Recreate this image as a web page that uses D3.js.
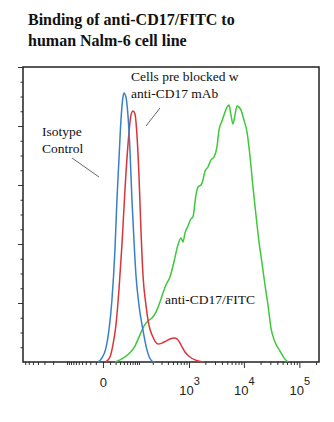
<!DOCTYPE html>
<html><head><meta charset="utf-8">
<script src="https://cdn.jsdelivr.net/npm/d3@7/dist/d3.min.js"></script>
<style>body{margin:0;background:#fff}svg{display:block}</style>
</head><body>
<script>
// ---- data ----
const titleLines = ["Binding of anti-CD17/FITC to", "human Nalm-6 cell line"];
const isotypeLabel = ["Isotype", "Control"];
const blockedLabel = ["Cells pre blocked w", "anti-CD17 mAb"];
const fitcLabel = "anti-CD17/FITC";

const xMajorTicks = [0, 1e3, 1e4, 1e5];
const xMajorExp = ["", "3", "4", "5"];
const xMinorTicks = [-700,-600,-500,-400,-300,-200,-100,-90,-80,-70,-60,-50,-40,-30,-20,-10,
  10,20,30,40,50,60,70,80,90,100,200,300,400,500,600,700,800,900,
  2000,3000,4000,5000,6000,7000,8000,9000,20000,30000,40000,50000,60000,70000,80000,90000,200000];
const yMajorTicks = [20, 40, 60, 80, 100];
const yMinorTicks = [5,10,15,25,30,35,45,50,55,65,70,75,85,90,95];

// Isotype control (blue)
const isoX = [-6.7,-1.2,3.8,8.2,13.1,18.7,22.8,27.3,32.2,37.5,40.3,46.3,52.8,59.9,67.6,75.9,85.0,100.1,123.5,151.0,192.4,221.8];
const isoY = [0,1.4,4.7,10.8,21.0,38.0,54.9,68.5,82.0,89.8,91.2,89.8,83.7,71.9,54.9,41.4,29.5,19.3,10.8,4.1,0.3,0];
// Cells pre-blocked (red)
const blkX = [3.8,9.8,14.9,20.7,27.3,34.8,43.2,52.8,63.7,71.7,80.4,89.9,100.1,111.3,123.5,143.7,166.5,192.4,221.8,255,306,367,438,546,622,708,842,1042,1290,1808];
const blkY = [0,1.7,5.8,12.5,24.4,39.7,58.3,73.6,83.7,85.1,84.1,76.9,63.4,44.7,29.5,19.3,12.5,9.2,7.1,6.1,6.4,7.1,7.8,8.1,7.5,5.8,3.4,1.7,0.7,0];
// anti-CD17/FITC (green)
const fitcX = [18.7,29.7,43.2,59.9,80.4,105.6,129.9,158.6,192.4,232.4,279.6,320.6,366.8,438.3,522.6,622.3,708.5,772.3,841.7,957,1088,1184,1345,1464,1662,1808,1967,2232,2531,2871,3255,3540,4012,4362,4945,5374,5844,6351,6902,7502,8155,8862,10040,11374,12885,14596,16533,18728,21214,24029,27216,30827,36392,44793,52885,62437];
const fitcY = [0,0.7,1.7,3.1,5.4,9.2,12.2,13.9,14.9,16.9,20.3,23.4,26.1,28.8,33.9,39.7,42.0,40.7,43.7,46.1,48.5,49.2,56.6,59.3,60.0,61.7,64.7,66.1,68.5,69.5,72.9,78.6,81.7,83.7,86.4,87.1,83.7,80.7,83.7,86.8,86.4,85.4,82.0,78.0,69.8,59.3,49.8,40.7,33.6,26.1,19.3,11.5,6.8,3.7,1.4,0];

// ---- drawing ----
const W = 334, H = 422;
const svg = d3.select("body").append("svg").attr("width", W).attr("height", H);
svg.append("rect").attr("width", W).attr("height", H).attr("fill", "#fff");

const x = d3.scaleSymlog().constant(29).domain([-770, 226000]).range([23, 319]);
const y = d3.scaleLinear().domain([0, 100]).range([362, 67]);

// title
const title = svg.append("text").attr("font-family", "'Liberation Serif', 'Times New Roman', serif")
  .attr("font-weight", "bold").attr("font-size", 16).attr("fill", "#111");
titleLines.forEach((t, i) => title.append("tspan").attr("x", 28).attr("y", 25 + i * 21).text(t));

// axes
const gx = svg.append("g").attr("transform", `translate(0,${y(0)})`);
gx.append("g").call(d3.axisBottom(x).tickValues(xMinorTicks).tickSize(3).tickSizeOuter(0).tickFormat(""))
  .call(g => g.select(".domain").remove());
const gxMaj = gx.append("g").call(d3.axisBottom(x).tickValues(xMajorTicks).tickSize(6).tickSizeOuter(0))
  .call(g => g.select(".domain").remove());
gx.selectAll("line").attr("stroke", "#333");
gxMaj.selectAll(".tick text").each(function(d, i) {
  const t = d3.select(this);
  t.text(null).attr("dy", null).attr("font-family", "'Liberation Sans', Arial, sans-serif")
    .attr("font-size", 13).attr("fill", "#222");
  if (d === 0) { t.attr("y", 25).text("0"); }
  else {
    t.attr("y", 33);
    t.append("tspan").text("10");
    t.append("tspan").attr("dy", -10).attr("font-size", 11).text(xMajorExp[i]);
  }
});

const gy = svg.append("g").attr("transform", `translate(${x.range()[0]},0)`);
gy.append("g").call(d3.axisLeft(y).tickValues(yMinorTicks).tickSize(2.5).tickSizeOuter(0).tickFormat(""))
  .call(g => g.select(".domain").remove());
gy.append("g").call(d3.axisLeft(y).tickValues(yMajorTicks).tickSize(5).tickSizeOuter(0).tickFormat(""))
  .call(g => g.select(".domain").remove());
gy.selectAll("line").attr("stroke", "#333");

// frame
svg.append("rect").attr("x", x.range()[0]).attr("y", y(100))
  .attr("width", x.range()[1] - x.range()[0]).attr("height", y(0) - y(100))
  .attr("fill", "none").attr("stroke", "#222").attr("stroke-width", 1.5);

// curves
const line = d3.line().x(d => x(d[0])).y(d => y(d[1])).curve(d3.curveMonotoneX);
const series = [
  { xs: fitcX, ys: fitcY, color: "#3ec83a" },
  { xs: blkX, ys: blkY, color: "#d8363a" },
  { xs: isoX, ys: isoY, color: "#3a80c8" }
];
series.forEach(s => {
  svg.append("path").datum(s.xs.map((v, i) => [v, s.ys[i]]))
    .attr("d", line).attr("fill", "none").attr("stroke", s.color).attr("stroke-width", 1.5);
});

// annotations
const ann = svg.append("g").attr("font-family", "'Liberation Serif', 'Times New Roman', serif")
  .attr("font-size", 13.5).attr("fill", "#111");
const a1 = ann.append("text");
isotypeLabel.forEach((t, i) => a1.append("tspan").attr("x", 42).attr("y", 136 + i * 17).text(t));
const a2 = ann.append("text");
blockedLabel.forEach((t, i) => a2.append("tspan").attr("x", 131).attr("y", 81 + i * 17).text(t));
ann.append("text").attr("x", 165).attr("y", 304).text(fitcLabel);

svg.append("line").attr("x1", 72).attr("y1", 158).attr("x2", 99).attr("y2", 177)
  .attr("stroke", "#666").attr("stroke-width", 1);
svg.append("line").attr("x1", 160).attr("y1", 108).attr("x2", 146).attr("y2", 126)
  .attr("stroke", "#666").attr("stroke-width", 1);
</script>
</body></html>
